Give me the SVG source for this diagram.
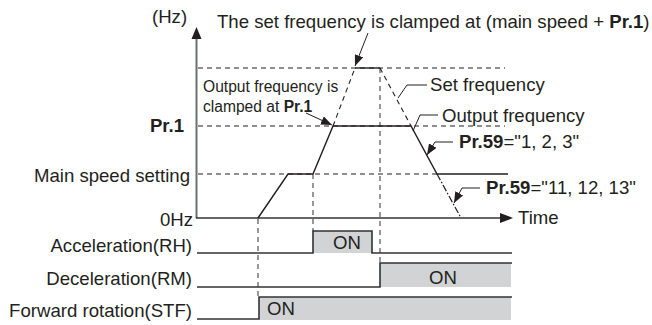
<svg xmlns="http://www.w3.org/2000/svg" width="652" height="325" viewBox="0 0 652 325">
<defs>
<style>
text{font-family:"Liberation Sans",Arial,sans-serif;fill:#231f20;font-size:18.6px}
.sm{font-size:15.6px}
.b{font-weight:bold}
.ln{stroke:#231f20;stroke-width:1.4;fill:none}
.dash{stroke:#231f20;stroke-width:1.1;fill:none;stroke-dasharray:5 4}
.vd{stroke:#444;stroke-width:1.1;fill:none;stroke-dasharray:5 4}
.sig{stroke:#333;stroke-width:1.6;fill:none}
.on{fill:#d1d3d4}
.ld{stroke:#231f20;stroke-width:1;fill:none}
</style>
<marker id="ah" viewBox="0 0 10 8" refX="10" refY="4" markerWidth="11" markerHeight="9" markerUnits="userSpaceOnUse" orient="auto">
<path d="M0,0L10,4L0,8z" fill="#231f20"/>
</marker>
</defs>
<rect width="652" height="325" fill="#fff"/>

<g id="axes">
<line x1="196.5" y1="38" x2="196.5" y2="218" stroke="#6d6e71" stroke-width="2"/>
<path d="M196.5,27L191.5,39L201.5,39z" fill="#231f20"/>
<line x1="196" y1="218" x2="502" y2="218" stroke="#333" stroke-width="1.4"/>
<path d="M513,218L500,213L500,223z" fill="#231f20"/>
</g>

<g id="guides">
<line class="dash" x1="198" y1="68" x2="505" y2="68"/>
<line class="dash" x1="198" y1="126" x2="505" y2="126"/>
<line class="dash" x1="198" y1="174" x2="437" y2="174"/>
<line class="vd" x1="258" y1="219" x2="258" y2="297"/>
<line class="vd" x1="313" y1="174" x2="313" y2="231"/>
<line class="vd" x1="380" y1="68" x2="380" y2="263"/>
</g>

<g id="set-frequency">
<line class="dash" x1="333" y1="126" x2="355" y2="68"/>
<line class="ln" x1="355" y1="68" x2="380" y2="68"/>
<line class="dash" x1="380" y1="68" x2="411" y2="126"/>
</g>

<g id="output-frequency">
<polyline class="ln" points="258,218 288,174 313,174 333,126 411,126 437,174 508,174"/>
<line x1="437" y1="174" x2="461" y2="218" stroke="#231f20" stroke-width="1.2" stroke-dasharray="7 2 1.5 2"/>
</g>

<g id="connectors">
<line class="ld" x1="368" y1="33" x2="355" y2="66" marker-end="url(#ah)"/>
<line class="ld" x1="306" y1="113" x2="332" y2="125" marker-end="url(#ah)"/>
<polyline class="ld" points="398,98 407,85 427,85"/>
<polyline class="ld" points="413,131 420,115 438,115"/>
<polyline class="ld" points="453,142 435,142 427,155" marker-end="url(#ah)"/>
<polyline class="ld" points="480,188 462,188 454,203" marker-end="url(#ah)"/>
</g>

<g id="labels">
<text x="152" y="23">(Hz)</text>
<text x="217" y="28">The set frequency is clamped at (main speed + <tspan class="b">Pr.1</tspan>)</text>
<text class="sm" x="203" y="92">Output frequency is</text>
<text class="sm" x="203" y="112">clamped at <tspan class="b">Pr.1</tspan></text>
<text x="430" y="91">Set frequency</text>
<text x="442" y="122">Output frequency</text>
<text x="459" y="148"><tspan class="b">Pr.59</tspan>="1, 2, 3"</text>
<text x="486" y="194"><tspan class="b">Pr.59</tspan>="11, 12, 13"</text>
<text x="518" y="224">Time</text>
<text class="b" x="184" y="132" text-anchor="end">Pr.1</text>
<text x="190" y="182" text-anchor="end">Main speed setting</text>
<text x="193" y="226" text-anchor="end">0Hz</text>
</g>

<g id="signal-RH">
<rect class="on" x="313" y="231" width="59" height="22"/>
<polyline class="sig" points="197,253 313,253 313,231 372,231 372,253 512,253"/>
<text x="192" y="252" text-anchor="end">Acceleration(RH)</text>
<text x="347" y="249" text-anchor="middle">ON</text>
</g>

<g id="signal-RM">
<rect class="on" x="380" y="263" width="131" height="24"/>
<polyline class="sig" points="197,287 380,287 380,263 512,263"/>
<text x="192" y="285" text-anchor="end">Deceleration(RM)</text>
<text x="443" y="284" text-anchor="middle">ON</text>
</g>

<g id="signal-STF">
<rect class="on" x="259" y="297" width="252" height="23"/>
<polyline class="sig" points="197,319 259,319 259,297 512,297"/>
<text x="192" y="317" text-anchor="end">Forward rotation(STF)</text>
<text x="267" y="315">ON</text>
</g>
</svg>
